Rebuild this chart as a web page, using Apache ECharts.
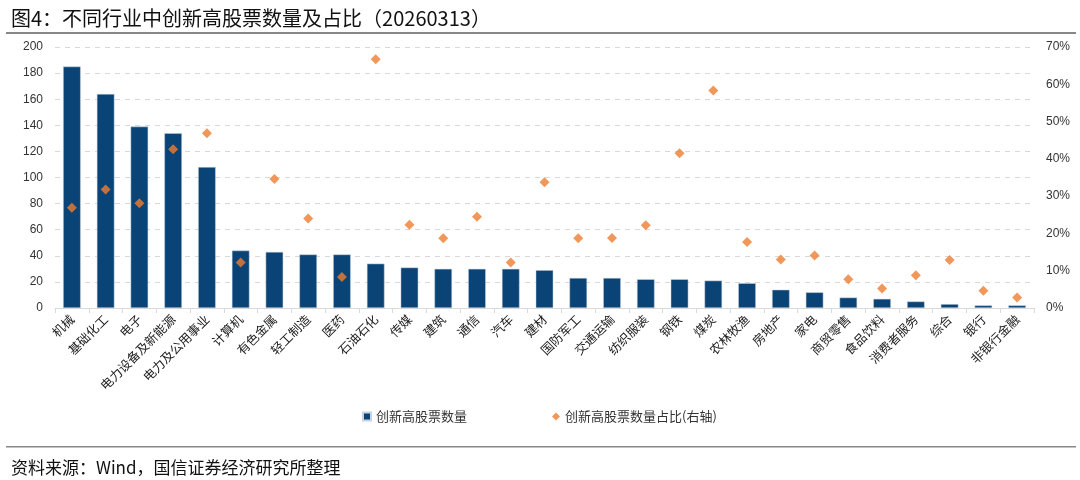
<!DOCTYPE html>
<html><head><meta charset="utf-8">
<script src="https://cdn.jsdelivr.net/npm/echarts@6/dist/echarts.min.js"></script>
<style>html,body{margin:0;padding:0;background:#fff}#c{width:1080px;height:480px}</style>
</head><body><div id="c"></div>
<script>
const categories = ['机械','基础化工','电子','电力设备及新能源','电力及公用事业','计算机','有色金属','轻工制造','医药','石油石化','传媒','建筑','通信','汽车','建材','国防军工','交通运输','纺织服装','钢铁','煤炭','农林牧渔','房地产','家电','商贸零售','食品饮料','消费者服务','综合','银行','非银行金融'];
const counts = [185,164,139,134,108,44,43,41,41,34,31,30,30,30,29,23,23,22,22,21,19,14,12,8,7,5,3,2,2];
const ratios = [26.9,31.8,28.1,42.6,46.9,12.2,34.6,24.0,8.3,66.7,22.3,18.7,24.5,12.2,33.7,18.7,18.8,22.2,41.5,58.3,17.7,13.0,14.1,7.7,5.2,8.8,12.9,4.6,2.8];
const leftTicks = [0,20,40,60,80,100,120,140,160,180,200];
const rightTicks = [0,10,20,30,40,50,60,70];
const titleText = '图4：不同行业中创新高股票数量及占比（20260313）';
const sourceText = '资料来源：Wind，国信证券经济研究所整理';

const chart = echarts.init(document.getElementById('c'));
const font = '"Noto Sans CJK SC","Noto Sans",sans-serif';
chart.setOption({
  animation:false,
  title:[{text:titleText,left:6,top:3,textStyle:{fontSize:20,fontWeight:'normal',color:'#111',fontFamily:font}},
         {text:sourceText,left:6,top:454,textStyle:{fontSize:17,fontWeight:'normal',color:'#111',fontFamily:font}}],
  graphic:[{type:'rect',shape:{x:6,y:32,width:1070,height:2},style:{fill:'#888'}},
           {type:'rect',shape:{x:6,y:446,width:1070,height:1.5},style:{fill:'#888'}}],
  legend:{top:405,left:357,itemGap:85,itemWidth:8,itemHeight:8,
    textStyle:{fontSize:13,color:'#333',fontFamily:font},
    data:[{name:'创新高股票数量',icon:'rect'},{name:'创新高股票数量占比(右轴)',icon:'diamond'}]},
  grid:{left:55,right:46,top:47,bottom:172,containLabel:false},
  xAxis:{type:'category',data:categories,
    axisLine:{lineStyle:{color:'#d9d9d9'}},
    axisTick:{show:true,alignWithLabel:false,length:5,lineStyle:{color:'#d9d9d9'}},
    axisLabel:{rotate:45,interval:0,fontSize:12.5,color:'#222',fontFamily:font,margin:9}},
  yAxis:[{type:'value',min:0,max:200,interval:20,
      axisLine:{show:false},axisTick:{show:false},
      axisLabel:{color:'#333',fontSize:12,fontFamily:'"Liberation Sans",Arial,sans-serif',margin:12},
      splitLine:{lineStyle:{color:'#d9d9d9',type:[5,5]}}},
    {type:'value',min:0,max:70,interval:10,
      axisLine:{show:false},axisTick:{show:false},
      axisLabel:{formatter:'{value}%',color:'#333',fontSize:12,fontFamily:'"Liberation Sans",Arial,sans-serif',margin:12},
      splitLine:{show:false}}],
  series:[{name:'创新高股票数量',type:'bar',data:counts,barWidth:'52%',yAxisIndex:0,
      itemStyle:{color:'#0a4375',borderColor:'#c8d3de',borderWidth:0.5}},
    {name:'创新高股票数量占比(右轴)',type:'scatter',data:ratios,yAxisIndex:1,symbol:'diamond',symbolSize:10,
      itemStyle:{color:'#ed7d31'}}]
});
</script></body></html>
